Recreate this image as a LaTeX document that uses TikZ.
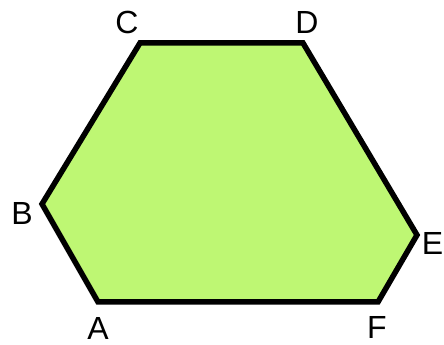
\documentclass[tikz,border=0pt]{standalone}
\usepackage{fontspec}
\setmainfont{Liberation Sans}
\usetikzlibrary{positioning}
\definecolor{verdeclaro}{RGB}{190,247,115}

\begin{document}
\begin{tikzpicture}[x=1pt, y=1pt,
    lado/.style={draw=black, line width=5.5pt, line join=miter, fill=verdeclaro},
    rotulo/.style={font=\fontsize{32}{32}\selectfont, inner sep=0pt}
]
\useasboundingbox (0,0) rectangle (444,345);
% vertices do hexagono
\coordinate (A) at (98,43);
\coordinate (B) at (42,141);
\coordinate (C) at (140,302);
\coordinate (D) at (303,302);
\coordinate (E) at (417,110);
\coordinate (F) at (378,43);
\draw[lado] (A) -- (B) -- (C) -- (D) -- (E) -- (F) -- cycle;
% letras
\node[rotulo] (rotA) at (98,17) {A};
\node[rotulo] (rotB) at (22,132) {B};
\node[rotulo] (rotC) at (127,323) {C};
\node[rotulo] (rotD) at (307,323) {D};
\node[rotulo, anchor=east] (rotE) at (443.5,102) {E};
\node[rotulo] (rotF) at (377,18) {F};
\end{tikzpicture}
\end{document}
